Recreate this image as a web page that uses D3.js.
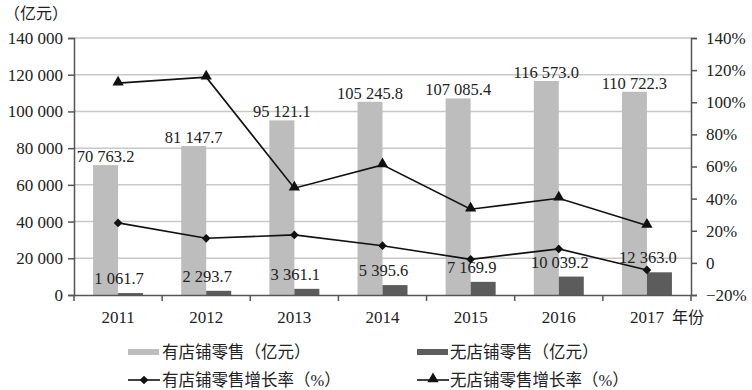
<!DOCTYPE html>
<html>
<head>
<meta charset="utf-8">
<script src="https://cdn.jsdelivr.net/npm/d3@7"></script>
<style>
  body { margin: 0; background: #fff; }
  text { font-family: "Liberation Serif", "Noto Sans CJK SC", serif; fill: #222; }
</style>
</head>
<body>
<script>
// data
var years = ["2011", "2012", "2013", "2014", "2015", "2016", "2017"]
var storeSales = [70763.2, 81147.7, 95121.1, 105245.8, 107085.4, 116573.0, 110722.3]
var onlineSales = [1061.7, 2293.7, 3361.1, 5395.6, 7169.9, 10039.2, 12363.0]
var storeGrowth = [24.9, 15.3, 17.4, 10.7, 2.2, 8.7, -4.4]
var onlineGrowth = [111.9, 115.6, 46.5, 61.0, 33.4, 40.2, 23.2]
var leftTicks = [0, 20000, 40000, 60000, 80000, 100000, 120000, 140000]
var rightTicks = [-20, 0, 20, 40, 60, 80, 100, 120, 140]

// layout
var svg_width = 752, svg_height = 390
var plot_left = 74, plot_right = 691, plot_top = 38, plot_bottom = 295
var barW = 25
var lightGray = "#bdbdbd", darkGray = "#5c5c5c", gridCol = "#c8c8c8", axisCol = "#555"

var svg = d3.select("body").append("svg")
  .attr("width", svg_width)
  .attr("height", svg_height)

var x = d3.scaleBand().domain(years).range([plot_left, plot_right]).padding(0)
var y = d3.scaleLinear().domain([0, 140000]).range([plot_bottom, plot_top])
var y2 = d3.scaleLinear().domain([-20, 140]).range([plot_bottom, plot_top])

var fmtNum = function(v) { return d3.format(",")(v).replace(/,/g, " ") }
var fmtLab = function(v) { return d3.format(",.1f")(v).replace(/,/g, " ") }
var cx = function(i) { return x(years[i]) + x.bandwidth() / 2 }

// gridlines
svg.append("g").selectAll("line")
  .data(leftTicks.filter(function(d) { return d > 0 }))
  .enter().append("line")
    .attr("x1", plot_left).attr("x2", plot_right)
    .attr("y1", function(d) { return y(d) }).attr("y2", function(d) { return y(d) })
    .style("stroke", gridCol).style("stroke-width", 1.5)

// bars
svg.append("g").selectAll("rect")
  .data(storeSales)
  .enter().append("rect")
    .attr("x", function(d, i) { return cx(i) - barW })
    .attr("y", function(d) { return y(d) })
    .attr("width", barW)
    .attr("height", function(d) { return plot_bottom - y(d) })
    .attr("fill", lightGray)

svg.append("g").selectAll("rect")
  .data(onlineSales)
  .enter().append("rect")
    .attr("x", function(d, i) { return cx(i) })
    .attr("y", function(d) { return y(d) })
    .attr("width", barW)
    .attr("height", function(d) { return plot_bottom - y(d) })
    .attr("fill", darkGray)

// bar labels
svg.append("g").selectAll("text")
  .data(storeSales)
  .enter().append("text")
    .attr("x", function(d, i) { return cx(i) - barW / 2 })
    .attr("y", function(d) { return y(d) - 3 })
    .attr("text-anchor", "middle")
    .style("font-size", "16.5px")
    .text(fmtLab)

svg.append("g").selectAll("text")
  .data(onlineSales)
  .enter().append("text")
    .attr("x", function(d, i) { return cx(i) + 1 })
    .attr("y", function(d) { return y(d) - 9 })
    .attr("text-anchor", "middle")
    .style("font-size", "16.5px")
    .text(fmtLab)

// axes
var axL = svg.append("g").attr("transform", "translate(" + plot_left + ",0)")
  .call(d3.axisLeft(y).tickValues(leftTicks).tickSize(6).tickFormat(fmtNum))
var axR = svg.append("g").attr("transform", "translate(" + plot_right + ",0)")
  .call(d3.axisRight(y2).tickValues(rightTicks).tickSize(6)
    .tickFormat(function(d) { return d == 0 ? "0" : (d < 0 ? "\u2212" + (-d) : d) + "%" }))
var axB = svg.append("g").attr("transform", "translate(0," + plot_bottom + ")")
  .call(d3.axisBottom(x).tickSize(0).tickFormat(""))

;[axL, axR, axB].forEach(function(a) {
  a.select(".domain").style("stroke", axisCol).style("stroke-width", 1.5)
  a.selectAll(".tick line").style("stroke", axisCol).style("stroke-width", 1.5)
  a.selectAll(".tick text").style("font-size", "17px").style("font-family", "Liberation Serif").attr("fill", "#222")
})
axL.selectAll(".tick text").attr("x", -11)
axR.selectAll(".tick text").attr("x", 15)

// bottom category boundary ticks
svg.append("g").selectAll("line")
  .data(years.concat(["end"]))
  .enter().append("line")
    .attr("x1", function(d, i) { return plot_left + i * x.bandwidth() })
    .attr("x2", function(d, i) { return plot_left + i * x.bandwidth() })
    .attr("y1", plot_bottom).attr("y2", plot_bottom + 6)
    .style("stroke", axisCol).style("stroke-width", 1.5)

// year labels
svg.append("g").selectAll("text")
  .data(years)
  .enter().append("text")
    .attr("x", function(d, i) { return cx(i) })
    .attr("y", 323)
    .attr("text-anchor", "middle")
    .style("font-size", "17px")
    .text(function(d) { return d })

svg.append("text").attr("x", 672).attr("y", 323).style("font-size", "16px").text("年份")
svg.append("text").attr("x", 4).attr("y", 19).style("font-size", "16px").text("（亿元）")

// lines
var line = d3.line().x(function(d, i) { return cx(i) }).y(function(d) { return y2(d) })
svg.append("path").datum(storeGrowth).attr("d", line)
  .style("fill", "none").style("stroke", "#111").style("stroke-width", 1.6)
svg.append("path").datum(onlineGrowth).attr("d", line)
  .style("fill", "none").style("stroke", "#111").style("stroke-width", 1.6)

var diamond = d3.symbol().type(d3.symbolDiamond2).size(48)
var triangle = d3.symbol().type(d3.symbolTriangle).size(55)

svg.append("g").selectAll("path")
  .data(storeGrowth)
  .enter().append("path")
    .attr("d", diamond)
    .attr("transform", function(d, i) { return "translate(" + cx(i) + "," + y2(d) + ")" })
    .attr("fill", "#111")

svg.append("g").selectAll("path")
  .data(onlineGrowth)
  .enter().append("path")
    .attr("d", triangle)
    .attr("transform", function(d, i) { return "translate(" + cx(i) + "," + (y2(d) - 1) + ")" })
    .attr("fill", "#111")

// legend
var lg = svg.append("g")
lg.append("rect").attr("x", 128).attr("y", 349).attr("width", 31).attr("height", 6).attr("fill", lightGray)
lg.append("text").attr("x", 162).attr("y", 358).style("font-size", "16.5px").text("有店铺零售（亿元）")
lg.append("rect").attr("x", 417).attr("y", 349).attr("width", 31).attr("height", 6).attr("fill", darkGray)
lg.append("text").attr("x", 450).attr("y", 358).style("font-size", "16.5px").text("无店铺零售（亿元）")

lg.append("line").attr("x1", 128).attr("x2", 160).attr("y1", 380).attr("y2", 380)
  .style("stroke", "#111").style("stroke-width", 1.6)
lg.append("path").attr("d", diamond).attr("transform", "translate(144,380)").attr("fill", "#111")
lg.append("text").attr("x", 162).attr("y", 386).style("font-size", "16.5px").text("有店铺零售增长率（%）")

lg.append("line").attr("x1", 417).attr("x2", 449).attr("y1", 380).attr("y2", 380)
  .style("stroke", "#111").style("stroke-width", 1.6)
lg.append("path").attr("d", triangle).attr("transform", "translate(433,379)").attr("fill", "#111")
lg.append("text").attr("x", 450).attr("y", 386).style("font-size", "16.5px").text("无店铺零售增长率（%）")
</script>
</body>
</html>
